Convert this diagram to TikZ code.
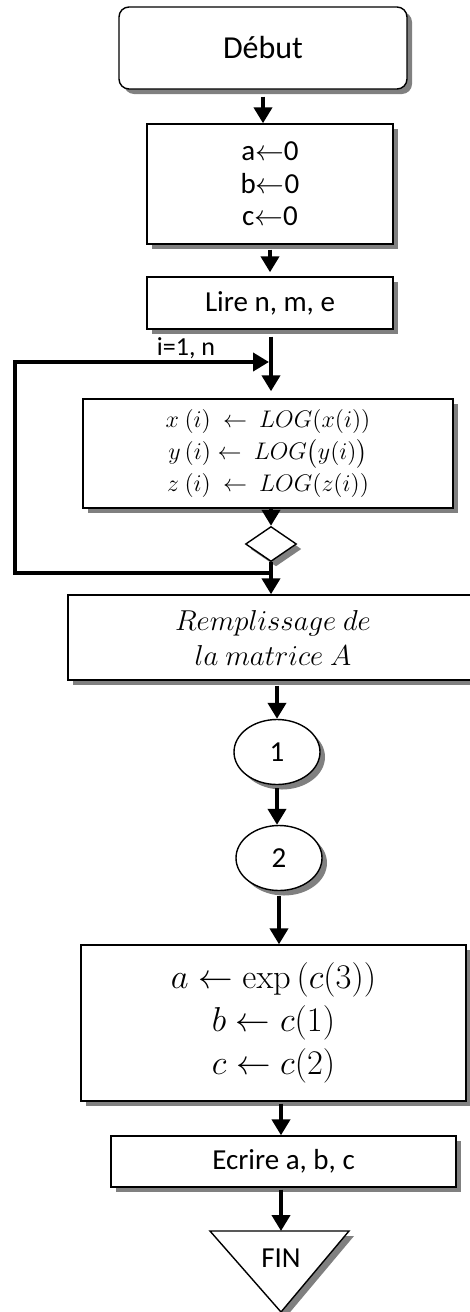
\documentclass[tikz,border=0pt]{standalone}
\usepackage{amsmath}
\usepackage[no-math]{fontspec}
\setmainfont{Carlito}
\usetikzlibrary{arrows.meta, positioning, calc, shapes.geometric, shadows}

\begin{document}
\begin{tikzpicture}[x=0.5pt, y=-0.5pt,
  boxshadow/.style={drop shadow={shadow xshift=2.5pt, shadow yshift=-2.5pt, fill=gray, opacity=1}},
  box/.style={draw, line width=0.7pt, fill=white, boxshadow, inner sep=0pt, align=center, font=\fontsize{14.5}{16.25}\selectfont},
  flow/.style={-{Triangle[width=9pt,length=8pt]}, line width=2pt}]
  \useasboundingbox (0,0) rectangle (470,1312);
  \clip (0,0) rectangle (470,1312);
  % boxes
  \node[box, rounded corners=5pt, minimum width=144pt, minimum height=41pt, font=\fontsize{16}{18}\selectfont] (deb) at (263,48) {Début};
  \node[box, minimum width=123pt, minimum height=60pt] (init) at (270,184) {a$\leftarrow$0\\b$\leftarrow$0\\c$\leftarrow$0};
  \node[box, minimum width=123pt, minimum height=26pt] (lire) at (270,303) {Lire n, m, e};
  \node[box, minimum width=185pt, minimum height=54.5pt, font=\fontsize{12.2}{16.2}\selectfont] (loopbox) at (268,453.5)
    {$x\ (i)\ \leftarrow\ LOG(x(i))$\\ $y\,(i) \leftarrow\ LOG\bigl(y(i)\bigr)$\\ $z\ (i)\ \leftarrow\ LOG(z(i))$};
  \node[box, diamond, aspect=1.46, minimum width=25.5pt, minimum height=17.5pt] (diam) at (271,544) {};
  \node[box, minimum width=205pt, minimum height=42.5pt, font=\fontsize{15.4}{17.5}\selectfont] (remp) at (273,637.5)
    {$Remplissage\ de$\\ $la\ matrice\ A$};
  \node[box, ellipse, minimum width=43pt, minimum height=32.5pt] (c1) at (277,752) {1};
  \node[box, ellipse, minimum width=43pt, minimum height=32.5pt] (c2) at (279,858) {2};
  \node[box, minimum width=192.5pt, minimum height=78pt, font=\fontsize{18}{21.5}\selectfont] (calc) at (273.5,1023)
    {$a \leftarrow \exp\,(c(3))$\\ $b \leftarrow c(1)$\\ $c \leftarrow c(2)$};
  \node[box, minimum width=172.5pt, minimum height=25.5pt] (ecr) at (283.5,1161.5) {Ecrire a, b, c};
  % end triangle
  \coordinate (fintop) at (281,1231);
  \filldraw[line width=0.7pt, fill=white, boxshadow] (210,1231) -- (349,1231) -- (281,1312) -- cycle;
  \node[font=\fontsize{14.5}{16}\selectfont] (fin) at (281,1258) {FIN};
  % loop
  \coordinate (join) at (diam.south |- 0,573);
  \coordinate (entry) at (diam.north |- 0,362);
  \node[font=\fontsize{13}{15}\selectfont] (ilab) at (186,348) {i=1, n};
  \draw[flow, line width=2.2pt, shorten >=1pt] (join) -| (15,362) -- (entry);
  % arrows
  \draw[flow, shorten <=3.5pt] (deb.south) -- (deb.south |- init.north);
  \draw[flow, shorten <=2.5pt, shorten >=2pt] (init.south) -- (init.south |- lire.north);
  \draw[flow, shorten <=3.5pt, shorten >=3.5pt] (lire.south -| diam.north) -- (diam.north |- loopbox.north);
  \draw[flow] (loopbox.south -| diam.north) -- (diam.north);
  \draw[flow] (diam.south) -- (diam.south |- remp.north);
  \draw[flow, shorten <=2.5pt] (remp.south -| c1.north) -- (c1.north);
  \draw[flow, shorten <=1.5pt] (c1.south) -- (c1.south |- c2.north);
  \draw[flow, shorten <=2.5pt] (c2.south) -- (c2.south |- calc.north);
  \draw[flow, shorten <=1pt] (calc.south -| fintop) -- (fintop |- ecr.north);
  \draw[flow, shorten <=1pt] (ecr.south -| fintop) -- (fintop);
\end{tikzpicture}
\end{document}
